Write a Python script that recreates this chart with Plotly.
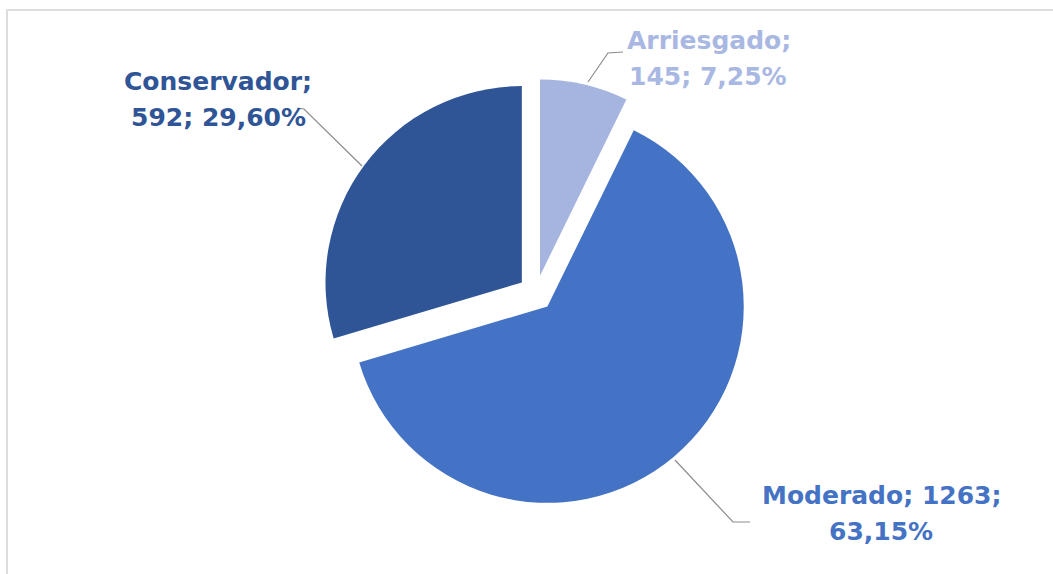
import plotly.graph_objects as go

categories = ["Arriesgado", "Moderado", "Conservador"]
values = [145, 1263, 592]
percent_labels = ["7,25%", "63,15%", "29,60%"]
slice_colors = ["#A5B5E0", "#4472C4", "#2F5597"]
text_colors = ["#A9B8E2", "#4472C4", "#2F5597"]

W, H = 1053, 574

def px(x, y):
    return x / W, 1 - y / H

# pie box in pixels (center and half size)
cx, cy, half = 536, 293, 214
fig = go.Figure()
fig.add_trace(go.Pie(
    labels=categories,
    values=values,
    sort=False,
    direction="clockwise",
    rotation=0,
    pull=[0.09, 0.09, 0.09],
    marker=dict(colors=slice_colors, line=dict(color="white", width=0)),
    textinfo="none",
    hoverinfo="label+value+percent",
    showlegend=False,
    domain=dict(x=[(cx - half) / W, (cx + half) / W],
                y=[1 - (cy + half) / H, 1 - (cy - half) / H]),
))

label_lines = [
    [f"{categories[0]};", f"{values[0]}; {percent_labels[0]}"],
    [f"{categories[1]}; {values[1]};", f"{percent_labels[1]}"],
    [f"{categories[2]};", f"{values[2]}; {percent_labels[2]}"],
]
label_pos = [[(709, 41), (708, 76)], [(881, 495), (881, 531)], [(218, 82), (218, 117)]]
leaders = [
    [(623, 52), (608, 53), (588, 82)],
    [(675, 460), (733, 522), (750, 522)],
    [(297, 108), (304, 109), (362, 166)],
]

for i in range(3):
    for line, (lx, ly) in zip(label_lines[i], label_pos[i]):
        x, y = px(lx, ly)
        fig.add_annotation(
            x=x, y=y, xref="paper", yref="paper",
            text=line, showarrow=False,
            font=dict(family="DejaVu Sans", size=25, color=text_colors[i], weight="bold"),
            align="center", xanchor="center", yanchor="middle",
        )
    pts = [px(a, b) for a, b in leaders[i]]
    path = "M " + " L ".join(f"{a},{b}" for a, b in pts)
    fig.add_shape(type="path", path=path, xref="paper", yref="paper",
                  line=dict(color="#8C8C8C", width=1.2))

# chart border (top and left visible)
x0, y0 = px(7, 10)
x1, y1 = px(1070, 600)
fig.add_shape(type="rect", xref="paper", yref="paper", x0=x0, y0=y1, x1=x1, y1=y0,
              line=dict(color="#DDDDDD", width=2), layer="below")

fig.update_layout(
    width=W, height=H,
    margin=dict(l=0, r=0, t=0, b=0),
    paper_bgcolor="white",
    plot_bgcolor="white",
)

fig.write_html("out.html", config={"displayModeBar": False},
               post_script="document.body.style.margin='0';")
